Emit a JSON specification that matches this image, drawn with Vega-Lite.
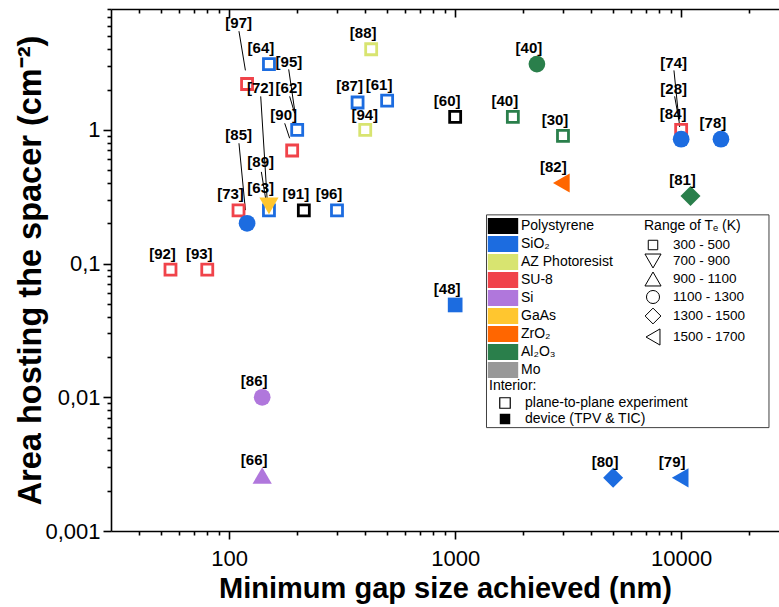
{
  "$schema": "https://vega.github.io/schema/vega-lite/v6.json",
  "width": 668,
  "height": 522,
  "autosize": {"type": "none"},
  "padding": {"left": 111, "top": 9, "right": 0, "bottom": 76},
  "background": "white",
  "config": {
    "view": {"stroke": null},
    "font": "Liberation Sans",
    "axis": {"grid": false, "domainColor": "black", "tickColor": "black", "domainWidth": 1.6, "tickWidth": 1.6, "labelColor": "black", "titleColor": "black", "labelFont": "Liberation Sans", "titleFont": "Liberation Sans", "labelFlush": false, "labelOverlap": false, "labelBound": false},
    "legend": {"labelFont": "Liberation Sans", "titleFont": "Liberation Sans", "labelFontSize": 14, "titleFontSize": 14, "titleFontWeight": "normal", "labelColor": "black", "titleColor": "black", "labelLimit": 300}
  },
  "datasets": {
    "points": [
      {"lab": "[92]", "material": "SU-8", "range": "300 - 500", "interior": "plane-to-plane experiment", "x": 55, "y": 0.09},
      {"lab": "[93]", "material": "SU-8", "range": "300 - 500", "interior": "plane-to-plane experiment", "x": 80, "y": 0.09},
      {"lab": "[73]", "material": "SU-8", "range": "300 - 500", "interior": "plane-to-plane experiment", "x": 110, "y": 0.25},
      {"lab": "", "material": "SiO₂", "range": "300 - 500", "interior": "plane-to-plane experiment", "x": 150, "y": 0.25},
      {"lab": "[91]", "material": "Polystyrene", "range": "300 - 500", "interior": "plane-to-plane experiment", "x": 214, "y": 0.25},
      {"lab": "[96]", "material": "SiO₂", "range": "300 - 500", "interior": "plane-to-plane experiment", "x": 300, "y": 0.25},
      {"lab": "", "material": "SU-8", "range": "300 - 500", "interior": "plane-to-plane experiment", "x": 120, "y": 2.2},
      {"lab": "[64]", "material": "SiO₂", "range": "300 - 500", "interior": "plane-to-plane experiment", "x": 150, "y": 3.1},
      {"lab": "", "material": "SiO₂", "range": "300 - 500", "interior": "plane-to-plane experiment", "x": 200, "y": 1.0},
      {"lab": "", "material": "SU-8", "range": "300 - 500", "interior": "plane-to-plane experiment", "x": 190, "y": 0.7},
      {"lab": "[88]", "material": "AZ Photoresist", "range": "300 - 500", "interior": "plane-to-plane experiment", "x": 425, "y": 4.0},
      {"lab": "[87]", "material": "SiO₂", "range": "300 - 500", "interior": "plane-to-plane experiment", "x": 370, "y": 1.6},
      {"lab": "[61]", "material": "SiO₂", "range": "300 - 500", "interior": "plane-to-plane experiment", "x": 500, "y": 1.65},
      {"lab": "", "material": "AZ Photoresist", "range": "300 - 500", "interior": "plane-to-plane experiment", "x": 400, "y": 1.0},
      {"lab": "[60]", "material": "Polystyrene", "range": "300 - 500", "interior": "plane-to-plane experiment", "x": 1000, "y": 1.25},
      {"lab": "[40]", "material": "Al₂O₃", "range": "300 - 500", "interior": "plane-to-plane experiment", "x": 1800, "y": 1.25},
      {"lab": "[30]", "material": "Al₂O₃", "range": "300 - 500", "interior": "plane-to-plane experiment", "x": 3000, "y": 0.9},
      {"lab": "[84]", "material": "SU-8", "range": "300 - 500", "interior": "plane-to-plane experiment", "x": 10000, "y": 1.0},
      {"lab": "[48]", "material": "SiO₂", "range": "300 - 500", "interior": "device (TPV & TIC)", "x": 1000, "y": 0.049},
      {"lab": "", "material": "SiO₂", "range": "1100 - 1300", "interior": "device (TPV & TIC)", "x": 120, "y": 0.2},
      {"lab": "", "material": "GaAs", "range": "700 - 900", "interior": "device (TPV & TIC)", "x": 150, "y": 0.27},
      {"lab": "[40]", "material": "Al₂O₃", "range": "1100 - 1300", "interior": "device (TPV & TIC)", "x": 2300, "y": 3.1},
      {"lab": "[82]", "material": "ZrO₂", "range": "1500 - 1700", "interior": "device (TPV & TIC)", "x": 2950, "y": 0.4},
      {"lab": "", "material": "SiO₂", "range": "1100 - 1300", "interior": "device (TPV & TIC)", "x": 10000, "y": 0.85},
      {"lab": "[78]", "material": "SiO₂", "range": "1100 - 1300", "interior": "device (TPV & TIC)", "x": 15000, "y": 0.85},
      {"lab": "[81]", "material": "Al₂O₃", "range": "1300 - 1500", "interior": "device (TPV & TIC)", "x": 11000, "y": 0.32},
      {"lab": "[86]", "material": "Si", "range": "1100 - 1300", "interior": "device (TPV & TIC)", "x": 140, "y": 0.01},
      {"lab": "[66]", "material": "Si", "range": "900 - 1100", "interior": "device (TPV & TIC)", "x": 140, "y": 0.0026},
      {"lab": "[80]", "material": "SiO₂", "range": "1300 - 1500", "interior": "device (TPV & TIC)", "x": 5000, "y": 0.0025},
      {"lab": "[79]", "material": "SiO₂", "range": "1500 - 1700", "interior": "device (TPV & TIC)", "x": 9900, "y": 0.0025}
    ],
    "callouts": [
      {"lab": "[97]", "lx": 110.2, "ly": 6.27},
      {"lab": "[85]", "lx": 110.2, "ly": 0.91},
      {"lab": "[72]", "lx": 137.4, "ly": 2.065},
      {"lab": "[89]", "lx": 137.9, "ly": 0.575},
      {"lab": "[63]", "lx": 137.9, "ly": 0.364},
      {"lab": "[95]", "lx": 183.9, "ly": 3.21},
      {"lab": "[62]", "lx": 183.9, "ly": 2.065},
      {"lab": "[90]", "lx": 174.3, "ly": 1.283},
      {"lab": "[94]", "lx": 398, "ly": 1.283},
      {"lab": "[74]", "lx": 9265, "ly": 3.151},
      {"lab": "[28]", "lx": 9265, "ly": 2.03}
    ],
    "leaders": [
      {"ref": "[97]", "sx": 110.5, "sy": 5.46, "ex": 118.0, "ey": 2.78},
      {"ref": "[95]", "sx": 183.4, "sy": 2.83, "ex": 194.9, "ey": 1.398},
      {"ref": "[62]", "sx": 185.2, "sy": 1.778, "ex": 194.9, "ey": 1.328},
      {"ref": "[90]", "sx": 176.1, "sy": 1.118, "ex": 185.2, "ey": 0.864},
      {"ref": "[72]", "sx": 137.9, "sy": 1.778, "ex": 147.6, "ey": 0.2828},
      {"ref": "[85]", "sx": 110.5, "sy": 0.793, "ex": 118.0, "ey": 0.2507},
      {"ref": "[89]", "sx": 138.8, "sy": 0.4844, "ex": 146.1, "ey": 0.2828},
      {"ref": "[74]", "sx": 9293, "sy": 2.78, "ex": 9848, "ey": 1.049},
      {"ref": "[28]", "sx": 9359, "sy": 1.778, "ex": 9778, "ey": 1.177}
    ]
  },
  "layer": [
    {
      "data": {"values": [{"item": "legend frame"}]},
      "mark": {"type": "rect", "fill": "transparent", "stroke": "#404040", "strokeWidth": 1},
      "encoding": {
        "x": {"datum": 1376, "type": "quantitative", "scale": {"type": "log", "domain": [30, 27100], "nice": false}, "axis": null},
        "x2": {"datum": 24470},
        "y": {"datum": 0.2311, "type": "quantitative", "scale": {"type": "log", "domain": [0.001, 8], "nice": false}, "axis": null},
        "y2": {"datum": 0.005929}
      }
    },
    {
      "data": {"name": "leaders"},
      "mark": {"type": "rule", "color": "black", "strokeWidth": 1},
      "encoding": {
        "x": {"field": "sx", "type": "quantitative", "scale": {"type": "log", "domain": [30, 27100], "nice": false},
          "axis": {"orient": "top", "values": [100, 1000, 10000], "tickSize": -8, "labels": false, "domain": true, "title": null}},
        "y": {"field": "sy", "type": "quantitative", "scale": {"type": "log", "domain": [0.001, 8], "nice": false}, "axis": null},
        "x2": {"field": "ex"},
        "y2": {"field": "ey"}
      }
    },
    {
      "data": {"name": "points"},
      "mark": {"type": "point", "filled": true, "strokeJoin": "miter"},
      "encoding": {
        "x": {"field": "x", "type": "quantitative", "scale": {"type": "log", "domain": [30, 27100], "nice": false},
          "axis": {"orient": "bottom", "values": [100, 1000, 10000], "format": "d", "tickSize": 8, "labelFontSize": 22, "labelPadding": 9, "title": "Minimum gap size achieved (nm)", "titleFontSize": 29, "titleFontWeight": "bold", "titlePadding": 5}},
        "y": {"field": "y", "type": "quantitative", "scale": {"type": "log", "domain": [0.001, 8], "nice": false},
          "axis": {"orient": "left", "values": [0.001, 0.01, 0.1, 1], "labelExpr": "replace(format(datum.value, '~g'), '.', ',')", "tickSize": 8, "labelFontSize": 22, "labelPadding": 3, "title": "Area hosting the spacer (cm⁻²)", "titleFontSize": 32.5, "titleFontWeight": "bold", "titlePadding": -3}},
        "color": {"field": "material", "type": "nominal",
          "scale": {"domain": ["Polystyrene", "SiO₂", "AZ Photoresist", "SU-8", "Si", "GaAs", "ZrO₂", "Al₂O₃", "Mo"],
                    "range": ["#000000", "#1C6CE0", "#D8E470", "#F0434A", "#B077DC", "#FFC62F", "#FF6600", "#2A7F4B", "#999999"]},
          "legend": {"title": null, "orient": "none", "legendX": 384, "legendY": 209, "padding": 0, "symbolType": "M-1.9,-1H1.9V1H-1.9Z", "symbolSize": 256, "symbolStrokeWidth": 0, "symbolOpacity": 1, "labelOffset": 10, "rowPadding": 2}},
        "stroke": {"field": "material", "type": "nominal",
          "scale": {"domain": ["Polystyrene", "SiO₂", "AZ Photoresist", "SU-8", "Si", "GaAs", "ZrO₂", "Al₂O₃", "Mo"],
                    "range": ["#000000", "#1C6CE0", "#D8E470", "#F0434A", "#B077DC", "#FFC62F", "#FF6600", "#2A7F4B", "#999999"]},
          "legend": null},
        "shape": {"field": "range", "type": "nominal",
          "sort": ["300 - 500", "700 - 900", "900 - 1100", "1100 - 1300", "1300 - 1500", "1500 - 1700"],
          "scale": {"range": ["square", "triangle-down", "triangle-up", "circle", "diamond", "triangle-left"]},
          "legend": {"title": "Range of Tₑ (K)", "orient": "none", "legendX": 533, "legendY": 210, "padding": 0, "symbolSize": 170, "symbolFillColor": "transparent", "symbolStrokeColor": "black", "symbolStrokeWidth": 1, "symbolOpacity": 1, "labelOffset": 11, "labelFontSize": 13.5, "rowPadding": 0, "titlePadding": 3,
            "encode": {"symbols": {"update": {
              "fill": {"value": "transparent"},
              "stroke": {"value": "black"},
              "strokeWidth": {"value": 1},
              "size": {"signal": "datum.value === '300 - 500' ? 90 : datum.value === '1100 - 1300' ? 170 : datum.value === '1300 - 1500' ? 250 : 260"}
            }}}}},
        "fillOpacity": {"condition": {"test": "datum.interior === 'device (TPV & TIC)'", "value": 1}, "value": 0},
        "opacity": {"field": "interior", "type": "nominal",
          "scale": {"type": "ordinal", "range": [1, 1]},
          "legend": {"title": "Interior:", "values": ["plane-to-plane experiment"], "orient": "none", "legendX": 378, "legendY": 370, "padding": 0, "symbolType": "square", "symbolSize": 110, "symbolFillColor": "white", "symbolStrokeColor": "black", "symbolStrokeWidth": 1.2, "symbolOpacity": 1, "symbolOffset": 9, "labelOffset": 13, "titlePadding": 3, "labelLimit": 300}},
        "strokeWidth": {"field": "interior", "type": "nominal",
          "sort": ["plane-to-plane experiment", "device (TPV & TIC)"],
          "scale": {"type": "ordinal", "range": [2.8, 0]},
          "legend": {"title": null, "values": ["device (TPV & TIC)"], "orient": "none", "legendX": 378, "legendY": 403, "padding": 0, "symbolType": "square", "symbolSize": 110, "symbolFillColor": "black", "symbolStrokeColor": "black", "symbolOpacity": 1, "symbolOffset": 9, "labelOffset": 13, "labelLimit": 300}},
        "size": {
          "condition": {"test": "datum.interior === 'device (TPV & TIC)' && datum.range === '300 - 500'", "value": 216},
          "field": "range", "type": "nominal",
          "scale": {"type": "ordinal", "domain": ["300 - 500", "700 - 900", "900 - 1100", "1100 - 1300", "1300 - 1500", "1500 - 1700"], "range": [121, 370, 370, 280, 400, 370]},
          "legend": null}
      }
    },
    {
      "data": {"name": "points"},
      "transform": [{"filter": "datum.lab != ''"}],
      "mark": {"type": "text", "font": "Liberation Sans", "fontWeight": "bold", "fontSize": 15, "align": "center", "baseline": "middle", "dx": -8, "dy": -16, "color": "black"},
      "encoding": {
        "x": {"field": "x", "type": "quantitative", "scale": {"type": "log", "domain": [30, 27100], "nice": false},
          "axis": {"orient": "bottom", "values": [40, 50, 60, 70, 80, 90, 200, 300, 400, 500, 600, 700, 800, 900, 2000, 3000, 4000, 5000, 6000, 7000, 8000, 9000, 20000], "tickSize": 4, "labels": false, "domain": false, "title": null}},
        "y": {"field": "y", "type": "quantitative", "scale": {"type": "log", "domain": [0.001, 8], "nice": false},
          "axis": {"orient": "left", "values": [0.002, 0.003, 0.004, 0.005, 0.006, 0.007, 0.008, 0.009, 0.02, 0.03, 0.04, 0.05, 0.06, 0.07, 0.08, 0.09, 0.2, 0.3, 0.4, 0.5, 0.6, 0.7, 0.8, 0.9, 2, 3, 4, 5, 6, 7, 8], "tickSize": 4, "labels": false, "domain": false, "title": null}},
        "text": {"field": "lab"}
      }
    },
    {
      "data": {"name": "callouts"},
      "mark": {"type": "text", "font": "Liberation Sans", "fontWeight": "bold", "fontSize": 15, "align": "center", "baseline": "middle", "color": "black"},
      "encoding": {
        "x": {"field": "lx", "type": "quantitative", "scale": {"type": "log", "domain": [30, 27100], "nice": false},
          "axis": {"orient": "top", "values": [40, 50, 60, 70, 80, 90, 200, 300, 400, 500, 600, 700, 800, 900, 2000, 3000, 4000, 5000, 6000, 7000, 8000, 9000, 20000], "tickSize": -4, "labels": false, "domain": false, "title": null}},
        "y": {"field": "ly", "type": "quantitative", "scale": {"type": "log", "domain": [0.001, 8], "nice": false}, "axis": null},
        "text": {"field": "lab"}
      }
    }
  ],
  "resolve": {"axis": {"x": "independent", "y": "independent"}}
}
